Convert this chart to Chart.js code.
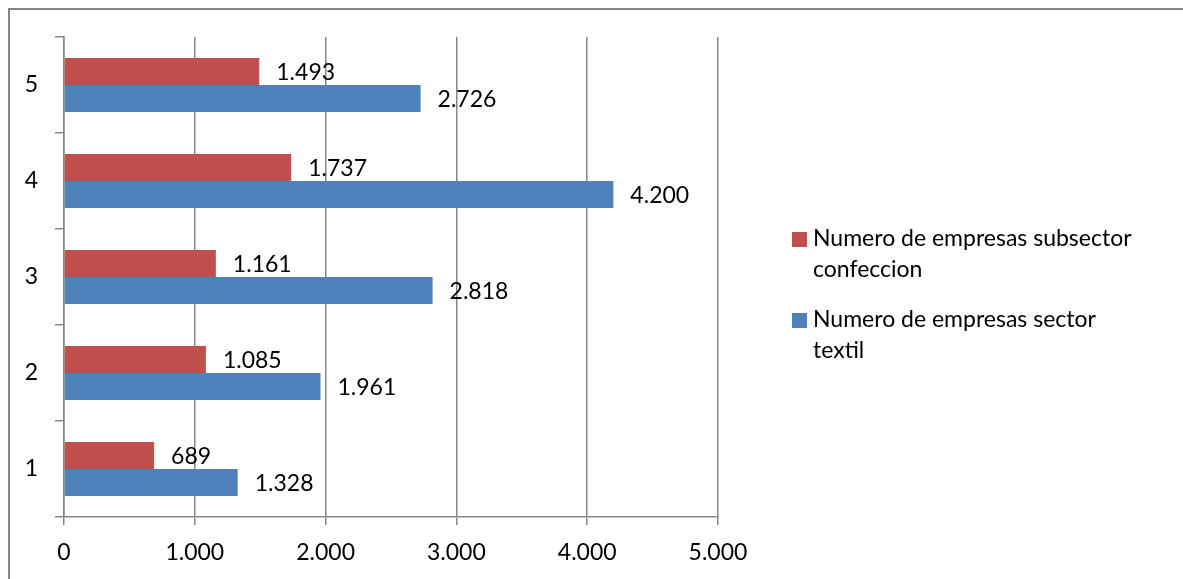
<!DOCTYPE html>
<html>
<head>
<meta charset="utf-8">
<title>Numero de empresas</title>
<script src="https://cdn.jsdelivr.net/npm/chart.js@4.4.1/dist/chart.umd.min.js"></script>
<style>
  html, body { margin: 0; padding: 0; background: #fff; }
  #wrap { width: 1183px; height: 579px; position: relative; }
</style>
</head>
<body>
<div id="wrap"><canvas id="chart" width="1183" height="579"></canvas></div>
<script>
// data
const categories = ["1", "2", "3", "4", "5"];
const confeccion = [689, 1085, 1161, 1737, 1493];
const textil = [1328, 1961, 2818, 4200, 2726];
const xTicks = [0, 1000, 2000, 3000, 4000, 5000];
const seriesNames = ["Numero de empresas subsector confeccion", "Numero de empresas sector textil"];
const seriesColors = ["#C0504D", "#4F81BD"];

const FONT = "Lato, Carlito, 'Open Sans', sans-serif";
const FONT_SIZE = 23;
const GRID = "#868686";

// 1328 -> "1.328"
function fmt(v) {
  return String(Math.round(v)).replace(/\B(?=(\d{3})+(?!\d))/g, ".");
}

// outer frame of the chart object
const framePlugin = {
  id: "frame",
  beforeDraw(chart) {
    const c = chart.ctx;
    c.save();
    c.fillStyle = "#fff";
    c.fillRect(0, 0, chart.width, chart.height);
    c.strokeStyle = GRID;
    c.lineWidth = 2;
    c.strokeRect(9, 9, chart.width + 20, chart.height + 20);
    c.restore();
  }
};

// value labels just right of each bar
const valueLabels = {
  id: "valueLabels",
  afterDatasetsDraw(chart) {
    const c = chart.ctx;
    c.save();
    c.font = FONT_SIZE + "px " + FONT;
    c.fillStyle = "#000";
    c.textAlign = "left";
    c.textBaseline = "middle";
    chart.data.datasets.forEach((ds, i) => {
      chart.getDatasetMeta(i).data.forEach((bar, j) => {
        c.fillText(fmt(ds.data[j]), bar.x + 17, bar.y + 1);
      });
    });
    c.restore();
  }
};

// legend on the right, wrapping long names
const sideLegend = {
  id: "sideLegend",
  afterDraw(chart) {
    const c = chart.ctx;
    const x0 = 792, textX = 813, maxW = 332, lineH = 31;
    let y = 239;
    c.save();
    c.font = FONT_SIZE + "px " + FONT;
    c.textAlign = "left";
    c.textBaseline = "middle";
    chart.data.datasets.forEach((ds) => {
      const words = ds.label.split(" ");
      const lines = [];
      let cur = "";
      words.forEach(w => {
        const t = cur ? cur + " " + w : w;
        if (c.measureText(t).width > maxW && cur) { lines.push(cur); cur = w; }
        else cur = t;
      });
      lines.push(cur);
      c.fillStyle = ds.backgroundColor;
      c.fillRect(x0, y - 7, 15, 15);
      c.fillStyle = "#000";
      lines.forEach((ln, k) => c.fillText(ln, textX, y + k * lineH));
      y += lines.length * lineH + 19;
    });
    c.restore();
  }
};

new Chart(document.getElementById("chart"), {
  type: "bar",
  data: {
    labels: categories,
    datasets: [
      { label: seriesNames[0], data: confeccion, backgroundColor: seriesColors[0] },
      { label: seriesNames[1], data: textil, backgroundColor: seriesColors[1] }
    ]
  },
  options: {
    indexAxis: "y",
    responsive: false,
    animation: false,
    devicePixelRatio: 1,
    categoryPercentage: 0.5625,
    barPercentage: 1,
    layout: { padding: { left: 0, top: 37, right: 465, bottom: 0 } },
    plugins: {
      legend: { display: false },
      tooltip: { enabled: false }
    },
    scales: {
      x: {
        type: "linear",
        min: 0,
        max: 5000,
        afterBuildTicks: s => { s.ticks = xTicks.map(v => ({ value: v })); },
        afterFit: s => { s.height = 62; },
        ticks: {
          callback: v => fmt(v),
          color: "#000",
          font: { family: FONT, size: FONT_SIZE },
          padding: 14
        },
        grid: { color: GRID, lineWidth: 1.5, tickLength: 8 },
        border: { color: GRID, width: 1.5 }
      },
      y: {
        type: "category",
        reverse: true,
        offset: true,
        afterFit: s => { s.width = 64; },
        ticks: {
          color: "#000",
          font: { family: FONT, size: FONT_SIZE },
          padding: 17
        },
        grid: { offset: true, drawOnChartArea: false, color: GRID, lineWidth: 1.5, tickLength: 9 },
        border: { color: GRID, width: 1.5 }
      }
    }
  },
  plugins: [framePlugin, valueLabels, sideLegend]
});
</script>
</body>
</html>
